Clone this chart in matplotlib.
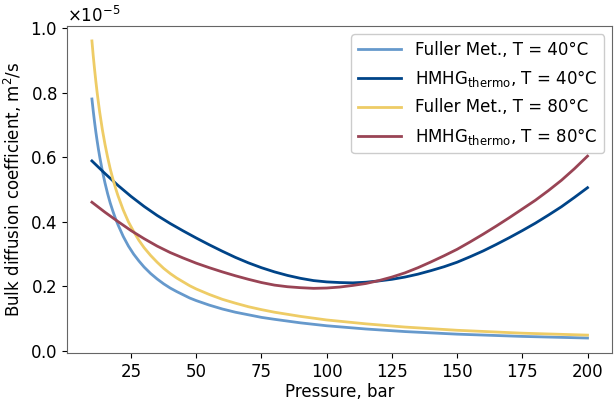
import matplotlib
matplotlib.use("Agg")
import matplotlib.pyplot as plt
from matplotlib.ticker import ScalarFormatter

# Diffusion coefficients in units of 1e-5 m^2/s
SCALE = 1e-5

p_fuller = [10, 10.5, 11, 11.5, 12, 12.5, 13, 14, 15, 16, 17, 18, 19, 20, 22, 24,
            26, 28, 30, 32.5, 35, 37.5, 40, 42.5, 45, 47.5, 50, 55, 60, 65, 70,
            75, 80, 90, 100, 115, 130, 150, 175, 200]
fuller_40 = [0.781, 0.744, 0.710, 0.679, 0.651, 0.625, 0.601, 0.558, 0.521, 0.488,
             0.459, 0.434, 0.411, 0.391, 0.355, 0.325, 0.300, 0.279, 0.260, 0.240,
             0.223, 0.208, 0.195, 0.184, 0.174, 0.164, 0.156, 0.142, 0.130, 0.120,
             0.112, 0.104, 0.098, 0.087, 0.078, 0.068, 0.060, 0.052, 0.045, 0.040]
fuller_80 = [0.961, 0.915, 0.874, 0.836, 0.801, 0.769, 0.739, 0.686, 0.641, 0.601,
             0.565, 0.534, 0.506, 0.481, 0.437, 0.400, 0.370, 0.343, 0.320, 0.296,
             0.275, 0.256, 0.240, 0.226, 0.214, 0.202, 0.192, 0.175, 0.160, 0.148,
             0.137, 0.128, 0.120, 0.107, 0.096, 0.084, 0.074, 0.064, 0.055, 0.049]

p_hmhg = [10, 15, 20, 25, 30, 35, 40, 45, 50, 55, 60, 65, 70, 75, 80, 85, 90, 95,
          100, 105, 110, 115, 120, 125, 130, 135, 140, 145, 150, 155, 160, 165,
          170, 175, 180, 185, 190, 195, 200]
hmhg_40 = [0.589, 0.550, 0.513, 0.479, 0.448, 0.420, 0.395, 0.372, 0.350, 0.329,
           0.309, 0.290, 0.273, 0.258, 0.245, 0.234, 0.225, 0.218, 0.214, 0.212,
           0.211, 0.213, 0.217, 0.222, 0.229, 0.238, 0.249, 0.261, 0.275, 0.292,
           0.310, 0.330, 0.351, 0.373, 0.396, 0.421, 0.447, 0.476, 0.506]
hmhg_80 = [0.461, 0.430, 0.401, 0.373, 0.348, 0.325, 0.305, 0.288, 0.272, 0.258,
           0.245, 0.233, 0.222, 0.212, 0.204, 0.199, 0.196, 0.194, 0.195, 0.198,
           0.203, 0.209, 0.218, 0.229, 0.242, 0.258, 0.276, 0.295, 0.315, 0.338,
           0.362, 0.387, 0.413, 0.440, 0.467, 0.497, 0.529, 0.565, 0.604]

series = [
    (p_fuller, fuller_40, "#6699CC", r"Fuller Met., T = 40°C"),
    (p_hmhg, hmhg_40, "#004488", r"HMHG$_{\mathrm{thermo}}$, T = 40°C"),
    (p_fuller, fuller_80, "#EECC66", r"Fuller Met., T = 80°C"),
    (p_hmhg, hmhg_80, "#994455", r"HMHG$_{\mathrm{thermo}}$, T = 80°C"),
]

plt.rcParams["font.family"] = ["DejaVu Sans"]
plt.rcParams["mathtext.fontset"] = "dejavusans"

fig = plt.figure(figsize=(6.16, 4.01), dpi=100)
ax = fig.add_axes([0.109, 0.120, 0.885, 0.815])

for p, v, color, label in series:
    ax.plot(p, [x * SCALE for x in v], color=color, lw=2.0, label=label)

fmt = ScalarFormatter(useMathText=True)
fmt.set_powerlimits((-3, 3))
ax.yaxis.set_major_formatter(fmt)
ax.yaxis.get_offset_text().set_fontsize(12)

ax.set_xlabel("Pressure, bar", fontsize=12, labelpad=2)
ax.set_ylabel(r"Bulk diffusion coefficient, m$^2$/s", fontsize=12, labelpad=4)
ax.tick_params(labelsize=12)

for s in ax.spines.values():
    s.set_color("0.4")

leg = ax.legend(loc="upper right", fontsize=12, handlelength=2.6,
                labelspacing=0.55, framealpha=1.0, edgecolor="0.8")

fig.savefig("out.png", dpi=100)
